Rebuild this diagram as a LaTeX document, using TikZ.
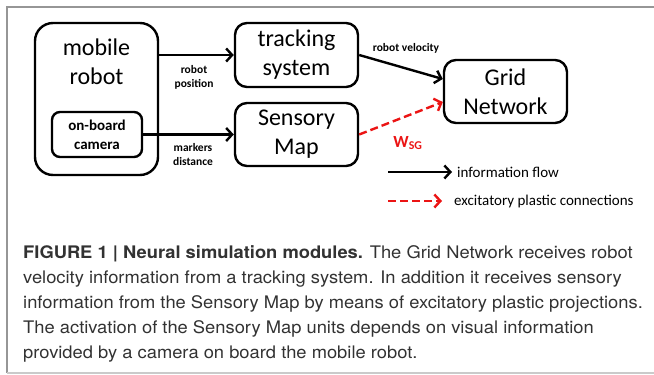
\documentclass[tikz,border=0pt]{standalone}
\usepackage{fontspec}
\setmainfont{Carlito}
\newfontfamily\capfont[FakeStretch=1.06]{TeX Gyre Heros}
\usepackage{tikz}
\usetikzlibrary{arrows.meta}
\definecolor{framegray}{RGB}{150,150,150}
\definecolor{captext}{RGB}{50,50,50}
\definecolor{wred}{RGB}{235,20,20}

\begin{document}
\begin{tikzpicture}[x=1pt,y=-1pt,
    module/.style={draw=black,line width=2.4pt,rounded corners=12pt,inner sep=0pt},
    bigtxt/.style={font=\fontsize{24}{29}\selectfont,align=center},
    smalltxt/.style={font=\fontsize{11.5}{14}\selectfont\bfseries,align=center},
    flow/.style={line width=2.4pt,-{Straight Barb[length=6pt,width=13pt,line width=2.4pt]}},
    plastic/.style={flow,wred,dash pattern=on 8pt off 4pt}]
                \tikzstyle{every node}+=[inner sep=0pt]
                \useasboundingbox (0,0) rectangle (654,375);
                \draw [framegray,line width=1.2pt] (654,7) -- (7,7) -- (7,373);
                \draw [framegray!50,line width=1.2pt] (7,373) -- (654,373);
                \node [module,rounded corners=18pt,minimum width=123pt,minimum height=152pt] (robot) at (96.5,99) {};
                \node [bigtxt] (robotlbl) at (96.5,62) {mobile\\robot};
                \node [module,rounded corners=8pt,minimum width=90pt,minimum height=45pt,font=\fontsize{15}{19}\selectfont\bfseries,align=center] (camera) at (97,134.5) {on-board\\camera};
                \node [module,minimum width=123pt,minimum height=64pt,bigtxt] (track) at (296.5,55) {tracking\\system};
                \node [module,minimum width=123pt,minimum height=63pt,bigtxt] (sensory) at (296.5,134.5) {Sensory\\Map};
                \node [module,minimum width=123pt,minimum height=63pt,bigtxt] (grid) at (505.5,91.5) {Grid\\Network};
                \draw [flow] (robot.east |- track) -- (track.west);
                \draw [flow] (camera.east) -- (sensory.west);
                \draw [flow] (track.east) -- ([yshift=12.5pt]grid.west);
                \draw [plastic] (sensory.east) -- ([yshift=-10.5pt]grid.west);
                \node [smalltxt] (poslbl) at (194,77) {robot\\position};
                \node [smalltxt] (distlbl) at (193,155) {markers\\distance};
                \node [smalltxt] (vellbl) at (406,48) {robot velocity};
                \node [wred,font=\fontsize{17}{19}\selectfont\bfseries] (wlbl) at (408,143) {W\textsubscript{SG}};
                \coordinate (flowa) at (388,172);
                \coordinate (flowb) at (452,172);
                \coordinate (plasta) at (388,201);
                \coordinate (plastb) at (442,201);
                \draw [flow] (flowa) -- (flowb);
                \draw [plastic] (plasta) -- (plastb);
                \node [anchor=west,font=\fontsize{15}{17}\selectfont] (flowlbl) at (457,172) {information flow};
                \node [anchor=west,font=\fontsize{15}{17}\selectfont] (plastlbl) at (454,201) {excitatory plastic connections};
                \node [anchor=north west,align=left,captext,font=\capfont\fontsize{17.3}{25}\selectfont] (caption) at (23,245.5)
                    {\textbf{FIGURE 1 | Neural simulation modules.} The Grid Network receives robot\\
                     velocity information from a tracking system. In addition it receives sensory\\
                     information from the Sensory Map by means of excitatory plastic projections.\\
                     The activation of the Sensory Map units depends on visual information\\
                     provided by a camera on board the mobile robot.};
                \end{tikzpicture}
\end{document}
